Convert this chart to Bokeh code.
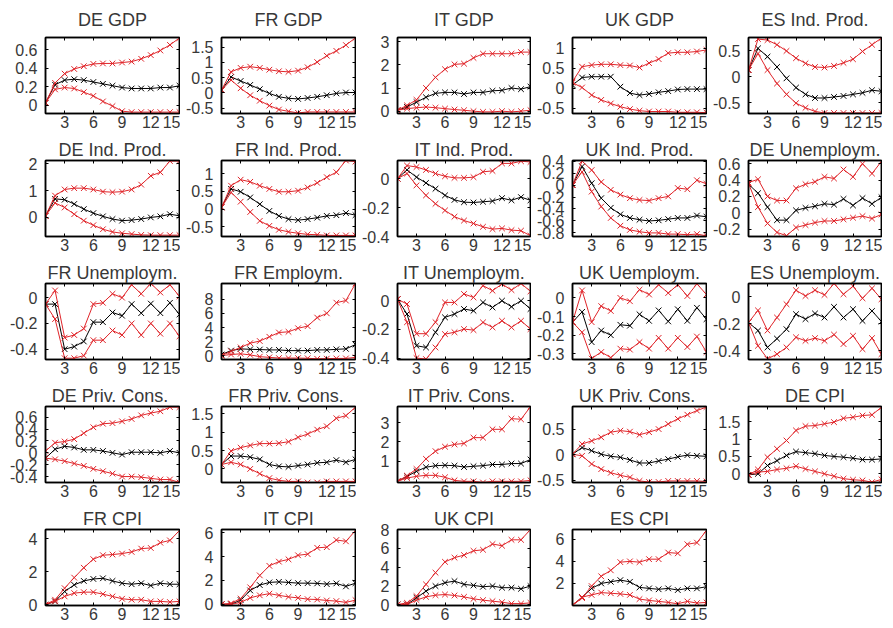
from bokeh.plotting import figure
from bokeh.layouts import gridplot
from bokeh.models import Range1d, FixedTicker, LinearAxis, Title
from bokeh.embed import file_html
from bokeh.resources import INLINE

steps = list(range(1, 16))
x_ticks = [3, 6, 9, 12, 15]

titles = ["DE GDP", "FR GDP", "IT GDP", "UK GDP", "ES Ind. Prod.",
          "DE Ind. Prod.", "FR Ind. Prod.", "IT Ind. Prod.", "UK Ind. Prod.", "DE Unemploym.",
          "FR Unemploym.", "FR Employm.", "IT Unemploym.", "UK Uemploym.", "ES Unemploym.",
          "DE  Priv. Cons.", "FR  Priv. Cons.", "IT  Priv. Cons.", "UK  Priv. Cons.", "DE CPI",
          "FR CPI", "IT CPI", "UK CPI", "ES CPI"]

upper = [
    [0.025, 0.24, 0.34, 0.39, 0.42, 0.445, 0.45, 0.45, 0.46, 0.47, 0.50, 0.54, 0.59, 0.65, 0.725],
    [0.09, 0.69, 0.82, 0.86, 0.82, 0.76, 0.71, 0.69, 0.73, 0.84, 1.01, 1.22, 1.38, 1.57, 1.81],
    [0.04, 0.25, 0.49, 1.0, 1.46, 1.81, 2.02, 2.05, 2.3, 2.48, 2.48, 2.48, 2.48, 2.55, 2.55],
    [0.17, 0.54, 0.58, 0.6, 0.6, 0.58, 0.57, 0.52, 0.63, 0.73, 0.88, 0.9, 0.9, 0.92, 0.96],
    [0.13, 0.73, 0.71, 0.62, 0.5, 0.36, 0.26, 0.19, 0.18, 0.21, 0.27, 0.34, 0.49, 0.62, 0.75],
    [0.06, 0.81, 1.04, 1.09, 1.09, 1.04, 0.96, 0.94, 0.96, 1.04, 1.22, 1.55, 1.68, 2.1, 2.1],
    [0.05, 0.66, 0.83, 0.77, 0.66, 0.57, 0.49, 0.49, 0.52, 0.61, 0.74, 0.9, 1.04, 1.37, 1.34],
    [0.0, 0.09, 0.08, 0.06, 0.035, 0.016, 0.005, 0.005, 0.01, 0.047, 0.053, 0.105, 0.105, 0.12, 0.115],
    [0.0, 0.4, 0.25, 0.05, -0.08, -0.16, -0.22, -0.25, -0.26, -0.22, -0.19, -0.05, -0.07, 0.08, 0.02],
    [0.37, 0.41, 0.2, 0.15, 0.15, 0.3, 0.35, 0.38, 0.44, 0.42, 0.53, 0.44, 0.6, 0.48, 0.63],
    [-0.05, 0.056, -0.31, -0.29, -0.24, -0.05, -0.04, 0.03, 0.0, 0.1, 0.03, 0.11, 0.04, 0.1, 0.01],
    [0.05, 0.65, 1.2, 1.8, 2.1, 2.7, 3.3, 3.4, 3.9, 4.2, 5.4, 6.0, 7.5, 7.8, 10.2],
    [0.01, -0.023, -0.23, -0.23, -0.15, -0.012, -0.012, 0.047, 0.023, 0.105, 0.07, 0.116, 0.074, 0.12, 0.065],
    [-0.13, 0.04, -0.13, -0.044, -0.07, 0.0, -0.018, 0.044, 0.018, 0.07, 0.026, 0.07, 0.01, 0.075, 0.018],
    [-0.19, -0.1, -0.25, -0.153, -0.054, 0.05, 0.007, 0.05, 0.015, 0.1, 0.02, 0.08, -0.01, 0.064, -0.017],
    [0.03, 0.17, 0.19, 0.23, 0.33, 0.43, 0.49, 0.5, 0.53, 0.57, 0.63, 0.67, 0.7, 0.77, 0.77],
    [0.12, 0.49, 0.58, 0.64, 0.69, 0.69, 0.7, 0.74, 0.86, 0.95, 1.07, 1.16, 1.38, 1.45, 1.68],
    [-0.04, 0.25, 0.6, 1.12, 1.52, 1.75, 1.87, 1.92, 2.22, 2.22, 2.65, 2.65, 3.2, 3.17, 3.82],
    [0.01, 0.21, 0.27, 0.34, 0.44, 0.47, 0.45, 0.39, 0.44, 0.5, 0.6, 0.7, 0.78, 0.86, 0.93],
    [-0.03, 0.125, 0.48, 0.72, 0.96, 1.25, 1.375, 1.39, 1.44, 1.49, 1.6, 1.63, 1.68, 1.7, 1.92],
    [0.0, 0.3, 1.0, 1.64, 2.24, 2.76, 3.0, 3.04, 3.1, 3.2, 3.4, 3.44, 3.76, 3.9, 4.5],
    [0.0, 0.08, 0.48, 1.42, 2.42, 3.22, 3.57, 3.76, 4.1, 4.2, 4.73, 4.78, 5.38, 5.27, 6.18],
    [0.0, 0.18, 0.9, 2.15, 3.4, 4.55, 5.0, 5.27, 5.73, 5.84, 6.45, 6.27, 6.9, 6.9, 8.0],
    [0.02, 0.67, 1.76, 2.65, 3.19, 3.93, 4.0, 3.93, 4.2, 4.2, 4.8, 4.73, 5.55, 5.7, 6.8],
]

median = [
    [0.025, 0.22, 0.27, 0.28, 0.27, 0.25, 0.23, 0.21, 0.19, 0.18, 0.18, 0.18, 0.19, 0.19, 0.21],
    [0.09, 0.52, 0.39, 0.26, 0.12, -0.02, -0.13, -0.18, -0.20, -0.17, -0.13, -0.08, -0.02, 0.01, 0.01],
    [0.04, 0.18, 0.39, 0.6, 0.77, 0.81, 0.81, 0.74, 0.81, 0.81, 0.88, 0.9, 1.0, 0.95, 1.06],
    [0.08, 0.27, 0.29, 0.29, 0.29, 0.04, -0.12, -0.17, -0.14, -0.1, -0.07, -0.03, -0.02, -0.02, -0.02],
    [0.13, 0.55, 0.39, 0.19, -0.03, -0.21, -0.34, -0.41, -0.41, -0.39, -0.37, -0.34, -0.31, -0.26, -0.28],
    [0.06, 0.69, 0.66, 0.5, 0.31, 0.16, 0.04, -0.06, -0.12, -0.1, -0.06, 0.0, 0.04, 0.12, 0.06],
    [0.05, 0.57, 0.49, 0.33, 0.14, -0.05, -0.19, -0.28, -0.31, -0.28, -0.24, -0.19, -0.17, -0.11, -0.17],
    [0.0, 0.06, 0.01, -0.03, -0.07, -0.116, -0.147, -0.163, -0.165, -0.16, -0.155, -0.135, -0.15, -0.128, -0.15],
    [0.0, 0.31, 0.03, -0.22, -0.38, -0.49, -0.55, -0.58, -0.6, -0.59, -0.57, -0.55, -0.55, -0.51, -0.53],
    [0.35, 0.24, 0.07, -0.09, -0.09, 0.03, 0.06, 0.08, 0.11, 0.1, 0.17, 0.09, 0.18, 0.11, 0.19],
    [-0.05, -0.05, -0.4, -0.38, -0.34, -0.19, -0.19, -0.115, -0.14, -0.05, -0.12, -0.046, -0.12, -0.04, -0.13],
    [0.2, 0.75, 1.0, 0.93, 0.9, 0.85, 0.85, 0.75, 0.75, 0.75, 0.85, 0.85, 0.93, 1.0, 1.6],
    [0.01, -0.093, -0.314, -0.326, -0.22, -0.116, -0.093, -0.058, -0.07, -0.012, -0.047, 0.0, -0.042, 0.0, -0.058],
    [-0.13, -0.075, -0.237, -0.175, -0.2, -0.144, -0.149, -0.088, -0.123, -0.067, -0.126, -0.061, -0.123, -0.053, -0.114],
    [-0.19, -0.25, -0.375, -0.31, -0.24, -0.128, -0.165, -0.123, -0.153, -0.074, -0.153, -0.091, -0.178, -0.104, -0.183],
    [-0.09, 0.06, 0.11, 0.09, 0.05, 0.05, 0.03, 0.0, -0.03, 0.01, 0.01, 0.01, 0.0, 0.03, 0.0],
    [0.12, 0.35, 0.35, 0.32, 0.26, 0.12, 0.07, 0.055, 0.09, 0.12, 0.166, 0.18, 0.24, 0.18, 0.26],
    [-0.04, 0.22, 0.48, 0.69, 0.77, 0.79, 0.77, 0.7, 0.74, 0.77, 0.83, 0.83, 0.88, 0.88, 1.09],
    [0.01, 0.14, 0.08, 0.01, -0.03, -0.05, -0.1, -0.16, -0.16, -0.12, -0.085, -0.04, -0.007, -0.02, -0.03],
    [-0.03, 0.0, 0.24, 0.38, 0.53, 0.64, 0.61, 0.58, 0.53, 0.5, 0.48, 0.45, 0.41, 0.41, 0.43],
    [0.0, 0.2, 0.8, 1.2, 1.44, 1.56, 1.6, 1.44, 1.3, 1.24, 1.3, 1.16, 1.3, 1.24, 1.24],
    [0.0, 0.0, 0.35, 1.16, 1.61, 1.83, 1.88, 1.83, 1.77, 1.77, 1.75, 1.69, 1.75, 1.5, 1.77],
    [0.0, 0.0, 0.72, 1.43, 1.97, 2.33, 2.5, 2.15, 2.04, 1.9, 1.97, 1.8, 1.8, 1.68, 1.97],
    [0.02, 0.76, 1.55, 2.0, 2.15, 2.3, 2.15, 1.64, 1.55, 1.47, 1.55, 1.4, 1.55, 1.55, 1.7],
]

lower = [
    [0.025, 0.17, 0.19, 0.18, 0.14, 0.10, 0.04, -0.01, -0.065, -0.075, -0.075, -0.075, -0.075, -0.075, -0.075],
    [0.09, 0.42, 0.15, -0.08, -0.26, -0.42, -0.55, -0.61, -0.66, -0.63, -0.63, -0.63, -0.63, -0.63, -0.63],
    [0.04, 0.11, 0.15, 0.18, 0.15, 0.11, 0.07, 0.04, 0.0, -0.03, -0.03, 0.0, -0.03, 0.0, 0.04],
    [0.14, 0.02, -0.17, -0.29, -0.38, -0.46, -0.52, -0.56, -0.58, -0.58, -0.58, -0.6, -0.6, -0.6, -0.61],
    [0.13, 0.45, 0.13, -0.13, -0.34, -0.51, -0.6, -0.67, -0.7, -0.7, -0.7, -0.7, -0.7, -0.7, -0.7],
    [0.06, 0.54, 0.37, 0.12, -0.12, -0.29, -0.44, -0.54, -0.59, -0.62, -0.65, -0.66, -0.66, -0.66, -0.66],
    [0.05, 0.47, 0.21, -0.08, -0.33, -0.47, -0.58, -0.64, -0.68, -0.71, -0.72, -0.74, -0.74, -0.74, -0.74],
    [0.0, 0.035, -0.047, -0.116, -0.174, -0.22, -0.263, -0.29, -0.31, -0.333, -0.349, -0.344, -0.356, -0.36, -0.395],
    [0.0, 0.22, -0.11, -0.36, -0.55, -0.68, -0.75, -0.78, -0.8, -0.8, -0.82, -0.82, -0.83, -0.82, -0.85],
    [0.36, 0.07, -0.13, -0.24, -0.28, -0.18, -0.15, -0.12, -0.1, -0.1, -0.08, -0.06, -0.04, -0.07, -0.02],
    [-0.05, -0.166, -0.47, -0.47, -0.45, -0.33, -0.33, -0.255, -0.29, -0.2, -0.29, -0.2, -0.28, -0.2, -0.3],
    [0.05, 0.2, 0.3, 0.15, -0.1, -0.2, -0.3, -0.3, -0.3, -0.33, -0.4, -0.38, -0.35, -0.35, -0.2],
    [0.01, -0.15, -0.4, -0.407, -0.326, -0.233, -0.22, -0.198, -0.205, -0.151, -0.186, -0.14, -0.186, -0.14, -0.198],
    [-0.13, -0.184, -0.325, -0.29, -0.32, -0.272, -0.277, -0.237, -0.272, -0.214, -0.272, -0.214, -0.263, -0.207, -0.29],
    [-0.19, -0.363, -0.46, -0.425, -0.375, -0.3, -0.326, -0.306, -0.326, -0.28, -0.35, -0.289, -0.388, -0.306, -0.425],
    [-0.09, -0.11, -0.14, -0.18, -0.22, -0.27, -0.31, -0.35, -0.4, -0.4, -0.41, -0.43, -0.45, -0.45, -0.5],
    [0.12, 0.18, 0.12, 0.0, -0.13, -0.25, -0.31, -0.34, -0.34, -0.37, -0.37, -0.34, -0.34, -0.34, -0.34],
    [-0.04, 0.13, 0.22, 0.27, 0.27, 0.17, 0.01, -0.04, -0.04, -0.1, -0.04, -0.04, -0.04, -0.04, 0.01],
    [0.01, -0.02, -0.18, -0.28, -0.35, -0.4, -0.44, -0.51, -0.53, -0.53, -0.51, -0.51, -0.51, -0.51, -0.52],
    [-0.03, 0.05, 0.07, 0.125, 0.16, 0.22, 0.14, 0.07, 0.0, -0.07, -0.14, -0.17, -0.19, -0.24, -0.16],
    [0.0, 0.2, 0.5, 0.7, 0.76, 0.76, 0.64, 0.5, 0.36, 0.3, 0.3, 0.2, 0.2, 0.16, 0.2],
    [0.0, 0.0, 0.16, 0.54, 0.75, 0.89, 0.75, 0.62, 0.54, 0.43, 0.4, 0.32, 0.27, 0.16, 0.35],
    [0.0, 0.0, 0.47, 0.82, 1.0, 1.07, 0.97, 0.82, 0.61, 0.47, 0.36, 0.25, 0.1, 0.1, 0.18],
    [0.02, 0.76, 0.96, 1.17, 1.11, 1.05, 0.96, 0.58, 0.46, 0.37, 0.28, 0.16, 0.37, 0.22, 0.28],
]

y_limits = [
    (-0.09, 0.73), (-0.68, 1.82), (-0.1, 3.18), (-0.63, 1.27), (-0.71, 0.76),
    (-0.71, 2.12), (-0.77, 1.37), (-0.4, 0.125), (-0.86, 0.41), (-0.29, 0.64),
    (-0.48, 0.11), (-0.5, 10.2), (-0.41, 0.12), (-0.33, 0.077), (-0.465, 0.1),
    (-0.5, 0.78), (-0.37, 1.7), (-0.1, 3.83), (-0.54, 0.94), (-0.25, 1.94),
    (-0.05, 4.56), (-0.1, 6.26), (-0.1, 8.0), (0.0, 6.89),
]

y_ticks = [
    [0, 0.2, 0.4, 0.6], [-0.5, 0, 0.5, 1, 1.5], [0, 1, 2, 3], [-0.5, 0, 0.5, 1], [-0.5, 0, 0.5],
    [0, 1, 2], [-0.5, 0, 0.5, 1], [-0.4, -0.2, 0], [-0.8, -0.6, -0.4, -0.2, 0, 0.2, 0.4],
    [-0.2, 0, 0.2, 0.4, 0.6],
    [-0.4, -0.2, 0], [0, 2, 4, 6, 8], [-0.4, -0.2, 0], [-0.3, -0.2, -0.1, 0], [-0.4, -0.2, 0],
    [-0.4, -0.2, 0, 0.2, 0.4, 0.6], [0, 0.5, 1, 1.5], [1, 2, 3], [-0.5, 0, 0.5], [0, 0.5, 1, 1.5],
    [0, 2, 4], [0, 2, 4, 6], [0, 2, 4, 6, 8], [2, 4, 6],
]

RED = "#e0252a"
TEXT = "#383838"
FONT = "Liberation Sans"

col_w = [180, 176, 175, 176, 175]
col_left = [45, 41, 41, 41, 41]
row_h = [134, 123, 123, 123, 123]
row_top = [36, 26, 26, 26, 26]
title_standoff = [15, 2, 2, 2, 2]


def fmt(v):
    return f"{v:g}"


def style_axis(ax, standoff, labels=True):
    ax.axis_line_color = "black"
    ax.axis_line_width = 1.5
    ax.major_tick_in = 3
    ax.major_tick_out = 0
    ax.major_tick_line_color = "black"
    ax.minor_tick_line_color = None
    ax.major_label_standoff = standoff
    if labels:
        ax.major_label_text_font = FONT
        ax.major_label_text_font_size = "16px"
        ax.major_label_text_color = TEXT
    else:
        ax.major_label_text_font_size = "1px"
        ax.major_label_text_color = None


grid = []
for i, name in enumerate(titles):
    r, c = divmod(i, 5)
    head = Title(text=name, text_font=FONT, text_font_size="18px", text_font_style="normal",
                 text_color=TEXT, align="center", standoff=title_standoff[r])
    p = figure(width=col_w[c], height=row_h[r], output_backend="svg", toolbar_location=None,
               x_range=Range1d(1, 15), y_range=Range1d(*y_limits[i]),
               min_border_left=col_left[c], min_border_right=1,
               min_border_top=row_top[r], min_border_bottom=21, title=head)
    p.xgrid.visible = False
    p.ygrid.visible = False
    p.outline_line_color = "black"
    p.outline_line_width = 1.5
    p.outline_line_alpha = 1.0
    p.background_fill_color = "white"
    p.border_fill_color = "white"

    p.xaxis.ticker = FixedTicker(ticks=x_ticks)
    p.yaxis.ticker = FixedTicker(ticks=y_ticks[i])
    p.yaxis.major_label_overrides = {t: fmt(t) for t in y_ticks[i]}
    style_axis(p.xaxis[0], 2)
    style_axis(p.yaxis[0], 8)

    ra = LinearAxis(ticker=FixedTicker(ticks=y_ticks[i]))
    style_axis(ra, 0, labels=False)
    p.add_layout(ra, "right")
    ta = LinearAxis(ticker=FixedTicker(ticks=x_ticks))
    style_axis(ta, 0, labels=False)
    p.add_layout(ta, "above")

    p.line(steps, median[i], line_color="black", line_width=1)
    p.scatter(steps, median[i], marker="x", size=8, line_color="black", line_width=1)
    for band in (upper[i], lower[i]):
        p.line(steps, band, line_color=RED, line_width=1)
        p.scatter(steps, band, marker="x", size=8, line_color=RED, line_width=1)
    grid.append(p)

rows = [grid[k:k + 5] for k in range(0, 25, 5)]
rows[-1] = rows[-1] + [None] * (5 - len(rows[-1]))
layout = gridplot(rows, toolbar_location=None)

open("out.html", "w").write(file_html(layout, INLINE, title="IRF panels"))
